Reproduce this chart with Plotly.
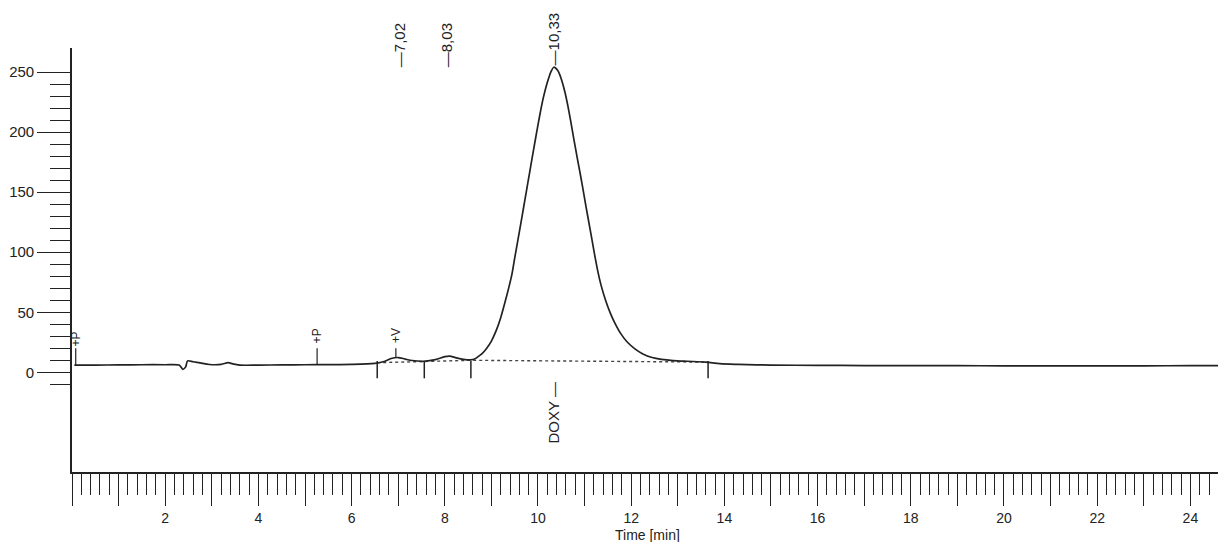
import numpy as np
import plotly.graph_objects as go

# ---- data ----
time_min = [0.05, 0.5, 1.0, 1.5, 2.0, 2.3, 2.38, 2.44, 2.48, 2.6, 2.75, 2.95, 3.2, 3.35, 3.45, 3.6,
            4.0, 4.5, 5.0, 5.5, 6.0, 6.5, 6.7, 6.85, 7.0, 7.15, 7.3, 7.55, 7.8, 8.0, 8.1, 8.25,
            8.4, 8.55, 8.65, 8.73, 8.8, 8.9, 9.0, 9.1, 9.2, 9.3, 9.38, 9.44, 9.5, 9.58, 9.63, 9.69,
            9.75, 9.81, 9.87, 9.94, 10.0, 10.06, 10.12, 10.19, 10.23, 10.27, 10.34, 10.42, 10.46,
            10.51, 10.58, 10.64, 10.7, 10.77, 10.84, 10.91, 10.97, 11.03, 11.1, 11.16, 11.22,
            11.29, 11.35, 11.45, 11.55, 11.65, 11.78, 11.92, 12.08, 12.25, 12.45, 12.65, 12.9,
            13.2, 13.6, 13.9, 14.3, 15.0, 16.0, 17.0, 18.0, 19.0, 20.0, 21.0, 22.0, 23.0, 24.0, 24.75]
signal = [6.0, 6.0, 6.2, 6.3, 6.3, 6.0, 2.5, 4.5, 9.5, 8.8, 7.8, 6.5, 6.6, 8.0, 7.0, 6.0,
          6.0, 6.2, 6.3, 6.4, 6.6, 7.5, 9.0, 11.5, 12.3, 11.0, 9.8, 9.2, 10.5, 13.0, 13.5, 12.0,
          10.8, 10.3, 11.2, 13.5, 15.5, 20.0, 26.0, 34.5, 45.5, 59.5, 71.5, 81.5, 95.0, 112.5, 123.5, 137.0,
          150.5, 164.0, 177.5, 193.0, 206.0, 218.5, 229.5, 240.0, 245.0, 249.5, 254.0, 251.5, 248.5,
          243.0, 233.0, 222.0, 209.5, 194.0, 179.0, 164.5, 151.5, 138.0, 123.0, 110.0, 97.0,
          83.0, 73.0, 60.0, 49.5, 41.0, 32.0, 25.0, 19.5, 15.3, 12.3, 10.8, 9.8,
          9.2, 8.5, 7.2, 6.6, 6.0, 5.8, 5.6, 5.5, 5.5, 5.4, 5.4, 5.3, 5.4, 5.5, 5.5]

# integration baseline (dotted)
baseline_time = [6.55, 7.56, 8.56, 13.65]
baseline_signal = [8.0, 9.0, 10.0, 8.5]

# integration event marks
event_times = [6.55, 7.56, 8.56, 13.65]
event_low, event_high = -5.0, 9.5

# peak / event labels
peak_times = [7.02, 8.03, 10.33]
peak_labels = ["\u20147,02", "\u20148,03", "\u201410,33"]

mark_times = [0.08, 5.26, 6.95]
mark_base = [6.0, 6.4, 12.0]
mark_top = [20.0, 20.0, 20.0]
mark_labels = ["+P", "+P", "+V"]
mark_label_y = [28, 30, 31]

compound_time = 10.33
compound_label = "DOXY \u2014"
compound_y = -34

x_major = list(range(0, 25))
x_labels = [str(v) if (v % 2 == 0 and v > 0) else "" for v in x_major]
y_major = [0, 50, 100, 150, 200, 250]
y_minor = [-10] + [v for v in range(10, 250, 10) if v % 50 != 0]
x_minor = [v for v in np.round(np.arange(0, 24.81, 0.2), 1) if abs(v - round(v)) > 1e-6]

ink = "#222222"
fam = "Liberation Sans, Arial, sans-serif"

fig = go.Figure()

fig.add_trace(go.Scatter(x=baseline_time, y=baseline_signal, mode="lines",
                         line=dict(color="#444444", width=1.4, dash="dot"), hoverinfo="skip"))

ev_x, ev_y = [], []
for t in event_times:
    ev_x += [t, t, None]
    ev_y += [event_low, event_high, None]
fig.add_trace(go.Scatter(x=ev_x, y=ev_y, mode="lines", line=dict(color=ink, width=1.5),
                         hoverinfo="skip"))

mk_x, mk_y = [], []
for t, b, h in zip(mark_times, mark_base, mark_top):
    mk_x += [t, t, None]
    mk_y += [b, h, None]
fig.add_trace(go.Scatter(x=mk_x, y=mk_y, mode="lines", line=dict(color=ink, width=1.2),
                         hoverinfo="skip"))

fig.add_trace(go.Scatter(x=time_min, y=signal, mode="lines",
                         line=dict(color=ink, width=1.7, shape="spline", smoothing=0.8)))

# peak retention-time labels sit just above the plot top (paper coords)
peak_label_paper_y = [1.007, 1.007, 1.021]
for t, lab, py in zip(peak_times, peak_labels, peak_label_paper_y):
    fig.add_annotation(x=t, y=py, xref="x", yref="paper", text=lab, textangle=-90,
                       showarrow=False, xanchor="center", yanchor="middle",
                       font=dict(family=fam, size=15, color=ink))
for t, lab, y in zip(mark_times, mark_labels, mark_label_y):
    fig.add_annotation(x=t, y=y, xref="x", yref="y", text=lab, textangle=-90,
                       showarrow=False, xanchor="center", yanchor="middle",
                       font=dict(family=fam, size=12, color=ink))
fig.add_annotation(x=compound_time, y=compound_y, xref="x", yref="y", text=compound_label,
                   textangle=-90, showarrow=False, xanchor="center", yanchor="middle",
                   font=dict(family=fam, size=15, color=ink))
fig.add_annotation(x=0.5, y=-0.148, xref="paper", yref="paper", text="Time [min]",
                   showarrow=False, xanchor="center", yanchor="middle",
                   font=dict(family=fam, size=14, color=ink))

fig.update_layout(
    width=1218, height=534,
    margin=dict(l=64, r=3, t=40, b=70, autoexpand=False),
    paper_bgcolor="white", plot_bgcolor="white",
    showlegend=False, font=dict(family=fam, size=14, color=ink),
    xaxis=dict(range=[0, 24.7], showline=True, linecolor=ink, linewidth=1.6,
               showgrid=False, zeroline=False, ticks="outside", tickmode="array",
               tickvals=x_major, ticktext=x_labels, ticklen=32, tickwidth=1.4, tickcolor=ink,
               minor=dict(tickmode="array", tickvals=x_minor, ticks="outside", ticklen=21,
                          tickwidth=1.2, tickcolor=ink, showgrid=False),
               automargin=False, tickfont=dict(family=fam, size=14, color=ink)),
    yaxis=dict(range=[-83, 270], showline=True, linecolor=ink, linewidth=1.6,
               showgrid=False, zeroline=False, ticks="outside", tickmode="array",
               tickvals=y_major, ticktext=[str(v) for v in y_major], ticklen=33,
               tickwidth=1.4, tickcolor=ink,
               minor=dict(tickmode="array", tickvals=y_minor, ticks="outside", ticklen=20,
                          tickwidth=1.2, tickcolor=ink, showgrid=False),
               automargin=False, tickfont=dict(family=fam, size=15, color=ink)),
)

fig.write_html("out.html")
